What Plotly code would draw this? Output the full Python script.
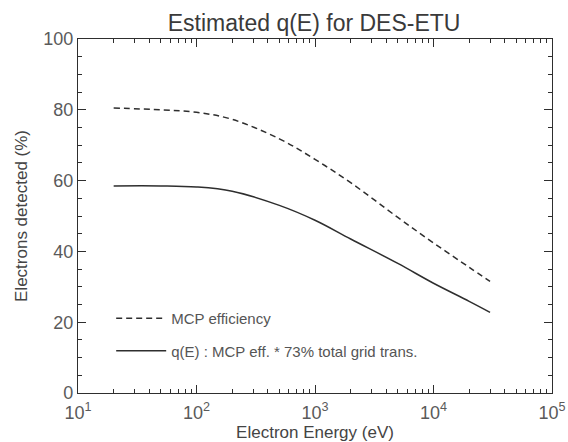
import plotly.graph_objects as go

# Energie in eV und Effizienzen in Prozent
energy = [20, 50, 100, 200, 500, 1000, 2000, 5000, 10000, 20000, 30000]
mcp_eff = [80.5, 80.0, 79.3, 77.3, 71.8, 66.0, 59.4, 49.6, 42.4, 35.5, 31.5]
q_e = [58.5, 58.5, 58.2, 57.0, 53.0, 48.8, 43.5, 36.6, 31.0, 25.9, 22.8]

x_tickvals = [10, 100, 1000, 10000, 100000]
x_ticktext = ["10<sup>1</sup>", "10<sup>2</sup>", "10<sup>3</sup>", "10<sup>4</sup>", "10<sup>5</sup>"]
y_tickvals = [0, 20, 40, 60, 80, 100]

ink = "#2e2e2e"

fig = go.Figure()
fig.add_trace(go.Scatter(
    x=energy, y=mcp_eff, mode="lines", name="MCP efficiency",
    line=dict(color=ink, width=1.5, dash="6px,4px", shape="spline"),
    legendgroup="a",
))
fig.add_trace(go.Scatter(
    x=energy, y=q_e, mode="lines", name="q(E) : MCP eff. * 73% total grid trans.",
    line=dict(color=ink, width=1.5, shape="spline"),
    legendgroup="b",
))

axis_common = dict(
    showline=True, linecolor=ink, linewidth=1.2, mirror="allticks",
    ticks="inside", ticklen=8, tickwidth=1.2, tickcolor=ink,
    showgrid=False, zeroline=False, automargin=False,
    tickfont=dict(size=18, color="#5a5a5a"),
)

fig.update_layout(
    width=568, height=442,
    margin=dict(l=78, r=16, t=39, b=49),
    paper_bgcolor="white", plot_bgcolor="white",
    font=dict(family="Liberation Sans, Arial, sans-serif", color="#444444"),
    title=dict(text="Estimated q(E) for DES-ETU", x=0.553, xanchor="center",
               y=0.948, yanchor="middle", font=dict(size=23, color="#3a3a3a")),
    xaxis=dict(
        type="log", range=[1, 5], tickvals=x_tickvals, ticktext=x_ticktext,
        ticklabelstandoff=3,
        title=dict(text="Electron Energy (eV)", font=dict(size=17, color="#444444"), standoff=0),
        minor=dict(ticks="inside", ticklen=4, tickwidth=1, tickcolor=ink, dtick="D1", showgrid=False),
        **axis_common,
    ),
    yaxis=dict(
        range=[0, 100], tickvals=y_tickvals,
        title=dict(text="Electrons detected (%)", font=dict(size=17, color="#444444"), standoff=11),
        minor=dict(ticks="inside", ticklen=4, tickwidth=1, tickcolor=ink, dtick=5, showgrid=False),
        **axis_common,
    ),
    legend=dict(
        x=0.07, y=0.257, xanchor="left", yanchor="top",
        bgcolor="rgba(0,0,0,0)", tracegroupgap=10, itemwidth=50,
        font=dict(size=15, color="#555555"),
    ),
)

# Body-Rand des Browsers entfernen, damit die Figur bei (0,0) liegt
fig.write_html(
    "out.html",
    config={"displayModeBar": False},
    post_script="document.body.style.margin='0';",
)
